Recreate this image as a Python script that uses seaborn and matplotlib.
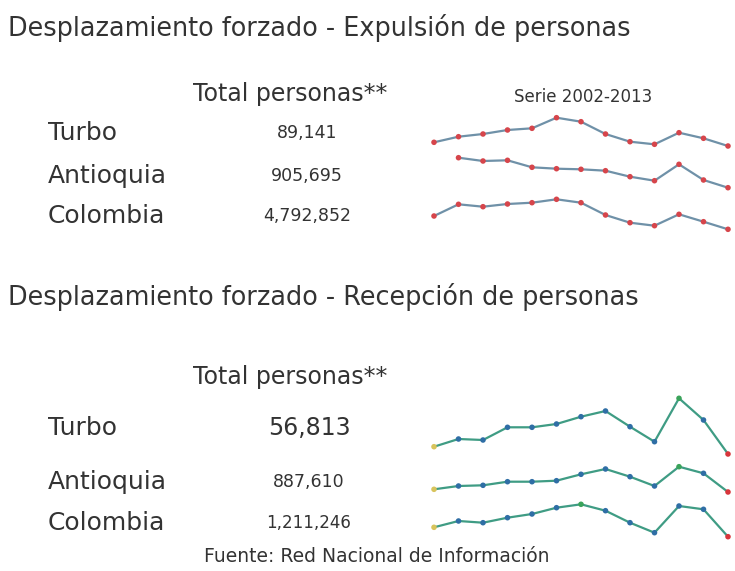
import numpy as np
import pandas as pd
import matplotlib
matplotlib.use("Agg")
import matplotlib.pyplot as plt
import seaborn as sns

sns.set_style("white")
plt.rcParams["font.family"] = ["DejaVu Sans"]

# datos
lugares = ["Turbo", "Antioquia", "Colombia"]
anios = list(range(2001, 2014))
total_expulsion = ["89,141", "905,695", "4,792,852"]
total_recepcion = ["56,813", "887,610", "1,211,246"]

# series relativas (escala de cada sparkline)
exp_turbo = [7.7, 13.3, 16, 20, 21.7, 32.3, 28.3, 16, 8.3, 5.7, 17.3, 11.7, 4]
exp_antioquia = [np.nan, 34.3, 31, 31.7, 24.7, 23.3, 22.7, 21.3, 15.3, 11.3, 27.7, 12, 4.3]
exp_colombia = [19, 30.7, 28.3, 31, 32.3, 35.7, 32.3, 20, 12.3, 9.3, 20.7, 13.3, 5.7]

rec_turbo = [13.3, 21, 20, 32.7, 32.7, 36, 43.3, 49, 33.3, 18.3, 61.7, 40, 6]
rec_antioquia = [10.7, 14, 14.7, 18.3, 18.3, 19.3, 25.7, 31, 23.3, 14, 33.3, 26.7, 8]
rec_colombia = [12.7, 19, 17.3, 22.3, 26, 32.3, 35.7, 29.3, 17.3, 7.3, 34, 30.7, 3.3]

W, H = 735, 571
fig = plt.figure(figsize=(W / 100, H / 100), dpi=100)
txt = "#333333"


def ftext(x, y, s, **kw):
    fig.text(x / W, 1 - y / H, s, color=txt, va="center", **kw)


def spark(vals, top, bottom, ymax, tipo):
    ax = fig.add_axes([434 / W, 1 - bottom / H, (728 - 434) / W, (bottom - top) / H])
    df = pd.DataFrame({"anio": anios, "valor": vals}).dropna()
    if tipo == "exp":
        sns.lineplot(data=df, x="anio", y="valor", ax=ax, color="#6f91a8", lw=1.6)
        sns.scatterplot(data=df, x="anio", y="valor", ax=ax, color="#d6454b",
                        s=16, edgecolor="none", zorder=3, clip_on=False)
    else:
        sns.lineplot(data=df, x="anio", y="valor", ax=ax, color="#3f9c84", lw=1.6)
        tipo_pt = ["medio"] * len(df)
        tipo_pt[0] = "inicio"
        tipo_pt[-1] = "fin"
        tipo_pt[int(df["valor"].values.argmax())] = "max"
        df["tipo"] = tipo_pt
        sns.scatterplot(data=df, x="anio", y="valor", hue="tipo", ax=ax,
                        palette={"medio": "#2f6ea5", "inicio": "#d8c45c",
                                 "fin": "#d8353b", "max": "#3aa35a"},
                        s=16, edgecolor="none", zorder=3, clip_on=False, legend=False)
    ax.set_xlim(anios[0], anios[-1])
    ax.set_ylim(0, ymax)
    ax.axis("off")


# Expulsión
ftext(8, 28, "Desplazamiento forzado - Expulsión de personas", fontsize=18.4)
ftext(290, 94, "Total personas**", fontsize=17, ha="center")
ftext(583, 97, "Serie 2002-2013", fontsize=12, ha="center")
for y, lugar, tot in zip([133, 176, 216], lugares, total_expulsion):
    ftext(48, y, lugar, fontsize=18)
    ftext(307, y, tot, fontsize=12.5, ha="center")

spark(exp_turbo, 110, 150, 40, "exp")
spark(exp_antioquia, 152, 192, 40, "exp")
spark(exp_colombia, 195, 235, 40, "exp")

# Recepción
ftext(8, 297, "Desplazamiento forzado - Recepción de personas", fontsize=18.4)
ftext(290, 377, "Total personas**", fontsize=17, ha="center")
rec_sizes = [17, 12.5, 12]
for y, lugar, tot, fs in zip([428, 482, 523], lugares, total_recepcion, rec_sizes):
    ftext(48, y, lugar, fontsize=18)
    ftext(309, y, tot, fontsize=fs, ha="center")

spark(rec_turbo, 390, 460, 70, "rec")
spark(rec_antioquia, 460, 500, 40, "rec")
spark(rec_colombia, 500, 540, 40, "rec")

ftext(377, 557, "Fuente: Red Nacional de Información", fontsize=13.5, ha="center")

fig.savefig("out.png", dpi=100, facecolor="white")
